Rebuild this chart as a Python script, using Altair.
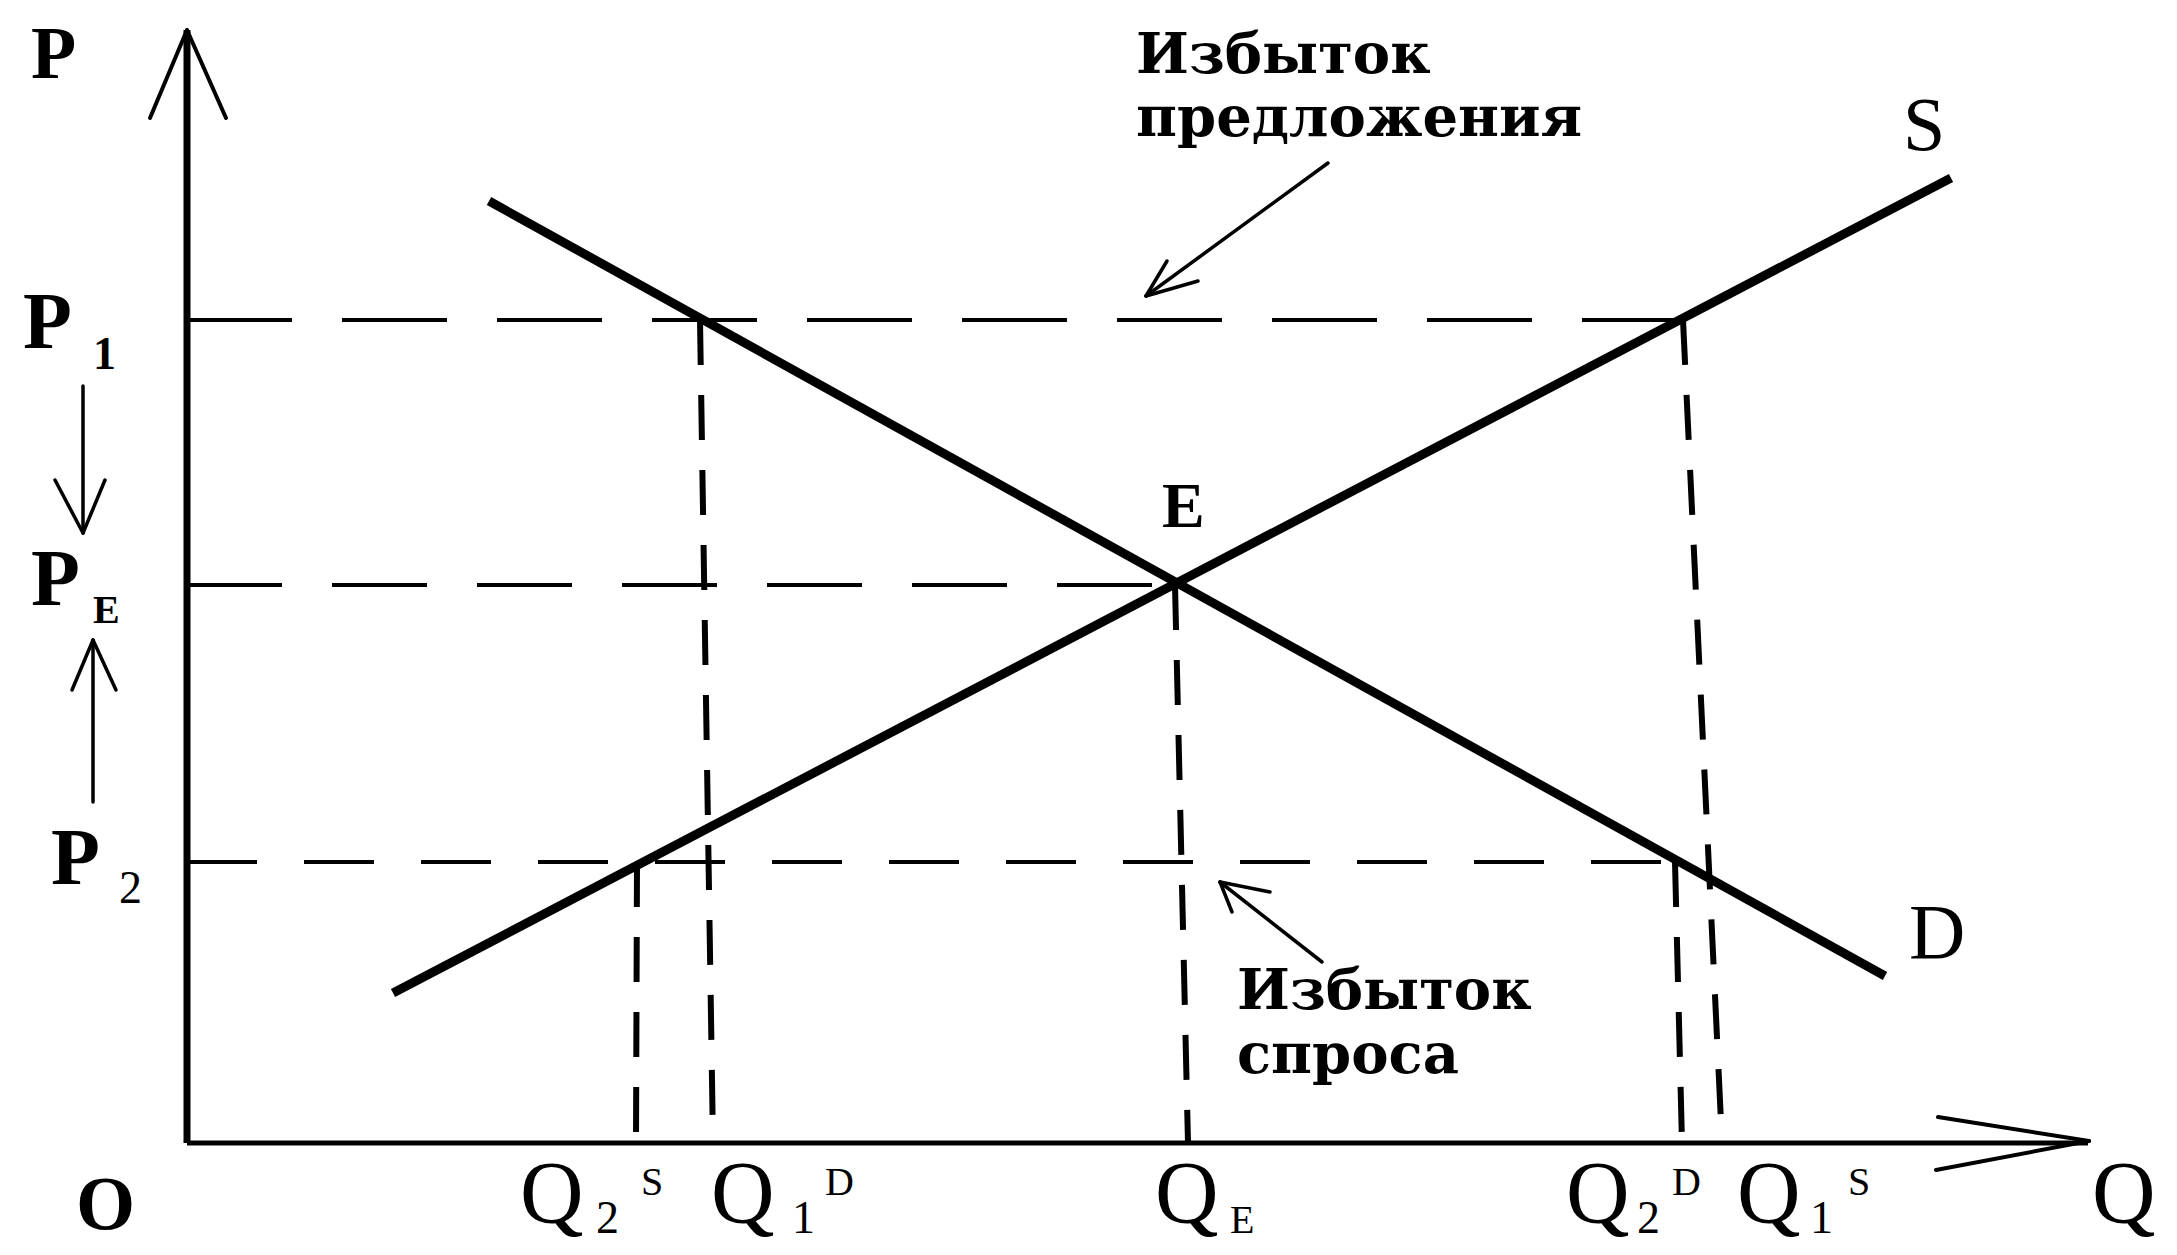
import altair as alt
import pandas as pd

# ---------------- data (in diagram units) ----------------
# price levels
price_names = ["P1", "PE", "P2"]
price_values = [82.3, 55.8, 28.1]
# horizontal dashed guides run from the P axis to these quantities
price_line_end = [149.6, 98.8, 148.3]

# quantity levels: where the dashed verticals meet the Q axis
qty_names = ["Q2S", "Q1D", "QE", "Q2D", "Q1S"]
qty_axis = [44.9, 52.6, 100.1, 149.5, 153.5]
# where the dashed verticals start (on the curves)
qty_top = [45.0, 51.3, 98.8, 148.8, 149.6]
qty_top_price = [28.1, 82.3, 55.8, 28.1, 82.3]

# supply and demand curves (end points)
supply_q = [20.6, 176.4]
supply_p = [15.0, 96.5]
demand_q = [30.2, 169.8]
demand_p = [94.2, 16.7]

# axes extent
q_axis_end = 190.1
p_axis_end = 111.3

# ---------------- build tables ----------------
curves = pd.DataFrame({
    "q1": [supply_q[0], demand_q[0]], "p1": [supply_p[0], demand_p[0]],
    "q2": [supply_q[1], demand_q[1]], "p2": [supply_p[1], demand_p[1]],
})

yaxis = pd.DataFrame({"q1": [0.0], "p1": [0.0], "q2": [0.0], "p2": [p_axis_end]})
xaxis = pd.DataFrame({"q1": [0.0], "p1": [0.0], "q2": [q_axis_end], "p2": [0.0]})

# arrow heads and small arrows (tail -> tip segments)
arrow_q1 = [-3.7, 3.9, 175.1, 174.9,
            -10.4, -13.2, -8.2,
            -9.4, -11.5, -7.1,
            114.1, 98.0, 101.1,
            113.5, 104.5, 108.3]
arrow_p1 = [102.5, 102.5, 2.6, -2.7,
            75.7, 66.3, 66.3,
            34.1, 45.3, 45.3,
            98.0, 88.2, 86.2,
            18.1, 23.1, 25.1]
arrow_q2 = [0.0, 0.0, q_axis_end + 0.1, q_axis_end + 0.1,
            -10.4, -10.4, -10.4,
            -9.4, -9.4, -9.4,
            95.9, 95.9, 95.9,
            103.3, 103.3, 103.3]
arrow_p2 = [p_axis_end, p_axis_end, 0.2, 0.2,
            61.0, 61.0, 61.0,
            50.3, 50.3, 50.3,
            84.7, 84.7, 84.7,
            26.1, 26.1, 26.1]
arrow_group = ["axis"] * 4 + ["small"] * 12
arrows = pd.DataFrame({"q1": arrow_q1, "p1": arrow_p1, "q2": arrow_q2,
                       "p2": arrow_p2, "g": arrow_group})

hlines = pd.DataFrame({"name": price_names, "q1": [0.0] * 3, "p1": price_values,
                       "q2": price_line_end, "p2": price_values})
vlines = pd.DataFrame({"name": qty_names, "q1": qty_top, "p1": qty_top_price,
                       "q2": qty_axis, "p2": [0.0] * 5})

# text labels
bold_text = ["P", "P", "1", "P", "E", "P", "O", "E"]
bold_q = [-15.6, -16.4, -9.4, -15.6, -9.4, -13.6, -11.1, 97.5]
bold_p = [106.5, 79.5, 77.4, 53.8, 52.0, 25.9, -8.6, 61.6]
bold_size = [74, 80, 46, 80, 40, 80, 76, 64]

reg_text = ["2",
            "Q", "2", "S",
            "Q", "1", "D",
            "Q", "E",
            "Q", "2", "D",
            "Q", "1", "S",
            "Q", "S", "D"]
reg_q = [-6.8,
         33.3, 40.9, 45.4,
         52.4, 60.5, 63.8,
         96.8, 104.3,
         137.9, 145.0, 148.5,
         155.0, 162.3, 166.1,
         190.5, 171.6, 172.2]
reg_p = [24.0,
         -7.9, -9.0, -5.2,
         -7.9, -9.0, -5.2,
         -7.9, -9.0,
         -7.9, -9.0, -5.2,
         -7.9, -9.0, -5.2,
         -7.9, 99.3, 18.5]
reg_size = [46,
            88, 46, 40,
            88, 46, 40,
            88, 40,
            88, 46, 40,
            88, 46, 40,
            88, 76, 78]

note_text = ["Избыток", "предложения", "Избыток", "спроса"]
note_q = [94.9, 94.9, 105.0, 105.0]
note_p = [107.0, 100.7, 13.4, 7.0]

bold_df = pd.DataFrame({"text": bold_text, "q": bold_q, "p": bold_p, "size": bold_size})
reg_df = pd.DataFrame({"text": reg_text, "q": reg_q, "p": reg_p, "size": reg_size})
note_df = pd.DataFrame({"text": note_text, "q": note_q, "p": note_p})

# ---------------- chart ----------------
xs = alt.Scale(domain=[-17.9, 198.2], nice=False, zero=False)
ys = alt.Scale(domain=[-10.4, 113.5], nice=False, zero=False)


def seg(df, **mark_kw):
    return alt.Chart(df).mark_rule(color="black", **mark_kw).encode(
        x=alt.X("q1:Q", scale=xs, axis=None),
        y=alt.Y("p1:Q", scale=ys, axis=None),
        x2="q2:Q",
        y2="p2:Q",
    )


def txt(df, font, weight, size=None):
    kw = dict(font=font, fontWeight=weight, align="left", baseline="alphabetic",
              color="black")
    if size is not None:
        kw["fontSize"] = size
    ch = alt.Chart(df).mark_text(**kw)
    enc = dict(
        x=alt.X("q:Q", scale=xs, axis=None),
        y=alt.Y("p:Q", scale=ys, axis=None),
        text="text:N",
    )
    if size is None:
        enc["size"] = alt.Size("size:Q", scale=None, legend=None)
    return ch.encode(**enc)


layers = [
    seg(hlines[hlines.name == "P1"], strokeWidth=4, strokeDash=[105, 50]),
    seg(hlines[hlines.name == "PE"], strokeWidth=4, strokeDash=[95, 50]),
    seg(hlines[hlines.name == "P2"], strokeWidth=4, strokeDash=[70, 47]),
    seg(vlines, strokeWidth=6, strokeDash=[45, 30]),
    seg(yaxis, strokeWidth=7),
    seg(xaxis, strokeWidth=5),
    seg(arrows[arrows.g == "axis"], strokeWidth=4, strokeCap="round"),
    seg(arrows[arrows.g == "small"], strokeWidth=3.5, strokeCap="round"),
    seg(curves, strokeWidth=9),
    txt(bold_df, "Liberation Serif", "bold"),
    txt(reg_df, "Liberation Serif", "normal"),
    txt(note_df, "DejaVu Serif", "bold", size=56),
]

chart = alt.layer(*layers).properties(
    width=2161,
    height=1239,
    autosize=alt.AutoSizeParams(type="none"),
    padding=0,
    background="white",
).configure_view(stroke=None)

chart.save("out.html", embed_options={"renderer": "svg", "actions": False})
